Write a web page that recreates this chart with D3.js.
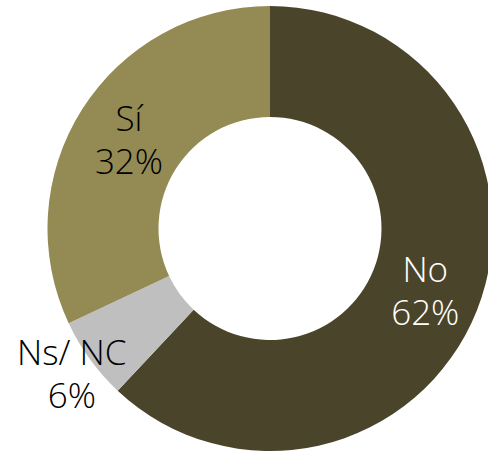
<!DOCTYPE html>
<html>
<head>
<meta charset="utf-8">
<script src="https://cdn.jsdelivr.net/npm/d3@7"></script>
<style>
  body { margin: 0; background: #fff; }
  svg { display: block; }
</style>
</head>
<body>
<svg id="chart" width="488" height="451"></svg>
<script>
// data
var categorias = ["No", "Ns/ NC", "Sí"];
var valores = [62, 6, 32];
var colores = ["#4a452a", "#bfbfbf", "#948a54"];
var colorTexto = ["#ffffff", "#000000", "#000000"];
var fuera = [false, true, false];

var svg = d3.select("#chart");
var cx = 270, cy = 228.5;
var rIn = 111.5, rOut = 222.5;

var datos = categorias.map(function(c, i) { return {cat: c, val: valores[i], i: i}; });

var pie = d3.pie().sort(null).value(function(d) { return d.val; });
var arc = d3.arc().innerRadius(rIn).outerRadius(rOut);
var arcFuera = d3.arc().innerRadius(245).outerRadius(245);

var g = svg.append("g").attr("transform", "translate(" + cx + "," + cy + ")");
var arcos = pie(datos);

g.selectAll("path")
  .data(arcos)
  .enter().append("path")
  .attr("d", arc)
  .style("fill", function(d) { return colores[d.data.i]; });

var txt = g.selectAll("text")
  .data(arcos)
  .enter().append("text")
  .attr("transform", function(d) {
    var p = fuera[d.data.i] ? arcFuera.centroid(d) : arc.centroid(d);
    return "translate(" + p[0] + "," + p[1] + ")";
  })
  .attr("text-anchor", "middle")
  .style("font-family", "'Open Sans', sans-serif")
  .style("font-weight", "300")
  .style("font-size", "35px")
  .style("fill", function(d) { return colorTexto[d.data.i]; });

txt.append("tspan").attr("x", 0).attr("y", -8).text(function(d) { return d.data.cat; });
txt.append("tspan").attr("x", 0).attr("y", 35).text(function(d) { return d.data.val + "%"; });
</script>
</body>
</html>
